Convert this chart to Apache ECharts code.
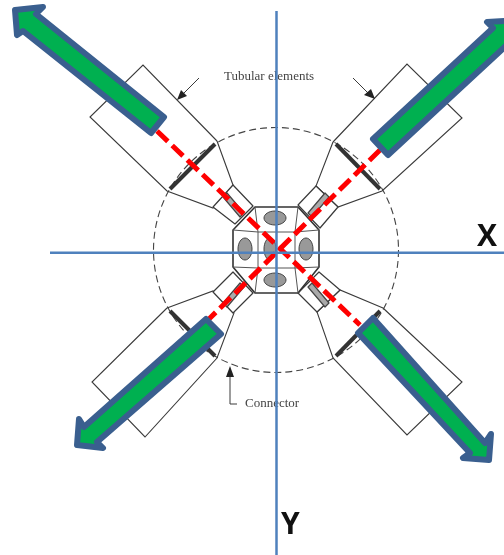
<!DOCTYPE html>
<html><head><meta charset="utf-8">
<style>html,body{margin:0;padding:0;background:#fff}#c{width:504px;height:555px}</style>
<script src="https://cdn.jsdelivr.net/npm/echarts@6/dist/echarts.min.js"></script>
</head><body><div id="c"></div>
<script>
// Diagram geometry, in the picture's own data units
const tubeOutlines = [
  [[217,141],[143,65],[90,117],[167,191],[213,208],[233,185],[217,141]],
  [[333,142],[407,64],[462,118],[382,191],[338,207],[316,186],[333,142]],
  [[167,308],[92,382],[145,437],[217,358],[234,313],[213,291],[167,308]],
  [[383,308],[462,382],[407,435],[333,358],[317,312],[340,290],[383,308]]
];
const flanges = [
  [[215,144],[170,189]], [[336,144],[380,189]],
  [[170,311],[215,356]], [[380,311],[336,356]]
];
const sockets = [
  [[213,207],[233,185],[253,206],[235,224]],
  [[316,186],[338,207],[320,228],[298,205]],
  [[213,292],[233,313],[253,293],[233,272]],
  [[340,290],[317,312],[298,293],[319,272]]
];
const socketInners = [
  [[223,197],[227,193],[244,213],[240,217]],
  [[329,197],[325,193],[308,213],[312,217]],
  [[223,303],[227,307],[244,287],[240,283]],
  [[329,303],[325,307],[308,287],[312,283]]
];
const hub = [[255,207],[298,207],[319,230],[319,267],[298,293],[255,293],[233,267],[233,230]];
const hubSquare = [[258,232],[295,232],[295,268],[258,268]];
const hubEdges = [
  [[255,207],[258,232]], [[298,207],[295,232]], [[319,230],[295,232]], [[319,267],[295,268]],
  [[298,293],[295,268]], [[255,293],[258,268]], [[233,267],[258,268]], [[233,230],[258,232]]
];
const holes = [[275,218,11,7],[275,280,11,7],[245,249,7,11],[306,249,7,11],[270,249,6,11]];
const ringCircle = [276,250,122.5];
const callouts = [
  [[199,78],[182,95]], [[353,78],[370,95]], [[230,372],[230,404],[237,404]]
];
const calloutHeads = [
  [[177,100],[181,90],[187,96]], [[375,99],[364,95],[371,89]], [[230,366],[226,377],[234,377]]
];
const redLines = [[[157,131],[360,325]],[[380,150],[208,320]]];
const blueAxes = [[[276.5,11],[276.5,555]],[[50,252.8],[504,252.8]]];
const arrows = [
  [[164,117],[151,133],[23,31],[17,35],[15,10],[43,7],[36,14]],
  [[373,139],[493,28],[487,22],[520,20],[522,50],[508,44],[388,155]],
  [[206,319],[221,334],[97,442],[103,448],[77,445],[79,419],[84,427]],
  [[373,318],[358,333],[470,453],[463,458],[489,460],[491,434],[485,443]]
];
const serifLabels = [["Tubular elements",224,77],["Connector",245,404]];
const axisLabels = [["X",477,237],["Y",281,525]];

const series = [];
let zOrder = 1;
function lineS(points, color, width, dash) {
  series.push({type:'line', data:points, symbol:'none', silent:true, animation:false, clip:false, z:zOrder++,
    lineStyle:{color, width, type:dash||'solid', cap:'butt', join:'miter'}});
}
function polyS(points, style) {
  series.push({type:'custom', data:points, silent:true, animation:false, clip:false, z:zOrder++,
    encode:{x:0,y:1},
    renderItem:(p,api)=> p.dataIndex!==0 ? null : ({type:'polygon',
      shape:{points:points.map(q=>api.coord(q))}, style:Object.assign({},style)})});
}
function textS(rows, font, fill) {
  series.push({type:'custom', data:rows.map(r=>[r[1],r[2]]), silent:true, animation:false, clip:false, z:zOrder++,
    encode:{x:0,y:1},
    renderItem:(p,api)=>{
      const c=api.coord([api.value(0),api.value(1)]);
      return {type:'text',style:{text:rows[p.dataIndex][0],x:c[0],y:c[1],font,fill,verticalAlign:'middle'}};
    }});
}
const ink='#3a3a3a';
series.push({type:'custom', data:[ringCircle], silent:true, animation:false, clip:false, z:zOrder++,
  encode:{x:0,y:1},
  renderItem:(p,api)=>{
    const c=api.coord([api.value(0),api.value(1)]);
    const r=api.size([api.value(2),0])[0];
    return {type:'circle',shape:{cx:c[0],cy:c[1],r},style:{fill:'none',stroke:'#444',lineWidth:1.1,lineDash:[7,4]}};
  }});
textS(serifLabels,'13px "Liberation Serif"','#444');
tubeOutlines.forEach(t=>lineS(t,ink,1.1));
flanges.forEach(f=>{lineS(f,'#333',4);});
sockets.forEach(s=>polyS(s,{fill:'#fff',stroke:ink,lineWidth:1.2,lineJoin:'round'}));
socketInners.forEach(s=>polyS(s,{fill:'#aaa',stroke:'#444',lineWidth:1.2,lineJoin:'round'}));
polyS(hub,{fill:'#fff',stroke:'#333',lineWidth:1.6,lineJoin:'round'});
hubEdges.forEach(e=>lineS(e,'#555',1));
polyS(hubSquare,{fill:'#fff',stroke:'#555',lineWidth:1});
series.push({type:'custom', data:holes, silent:true, animation:false, clip:false, z:zOrder++,
  encode:{x:0,y:1},
  renderItem:(p,api)=>{
    const c=api.coord([api.value(0),api.value(1)]);
    return {type:'ellipse',shape:{cx:c[0],cy:c[1],rx:api.size([api.value(2),0])[0],ry:api.size([0,api.value(3)])[1]},
      style:{fill:'#999',stroke:'#444',lineWidth:1}};
  }});
callouts.forEach(c=>lineS(c,ink,1));
calloutHeads.forEach(h=>polyS(h,{fill:'#222'}));
redLines.forEach(l=>lineS(l,'#ff0000',5,[15,6]));
blueAxes.forEach(l=>lineS(l,'#4f81bd',2.5));
arrows.forEach(a=>polyS(a,{fill:'#00b050',stroke:'#3a5f8f',lineWidth:6,lineJoin:'round'}));
textS(axisLabels,'bold 30px "Open Sans"','#111');
const chart=echarts.init(document.getElementById('c'),null,{renderer:'canvas'});
chart.setOption({
  animation:false, backgroundColor:'#fff',
  grid:{left:0,right:0,top:0,bottom:0},
  xAxis:{type:'value',min:0,max:504,show:false},
  yAxis:{type:'value',min:0,max:555,inverse:true,show:false},
  series
});
</script></body></html>
